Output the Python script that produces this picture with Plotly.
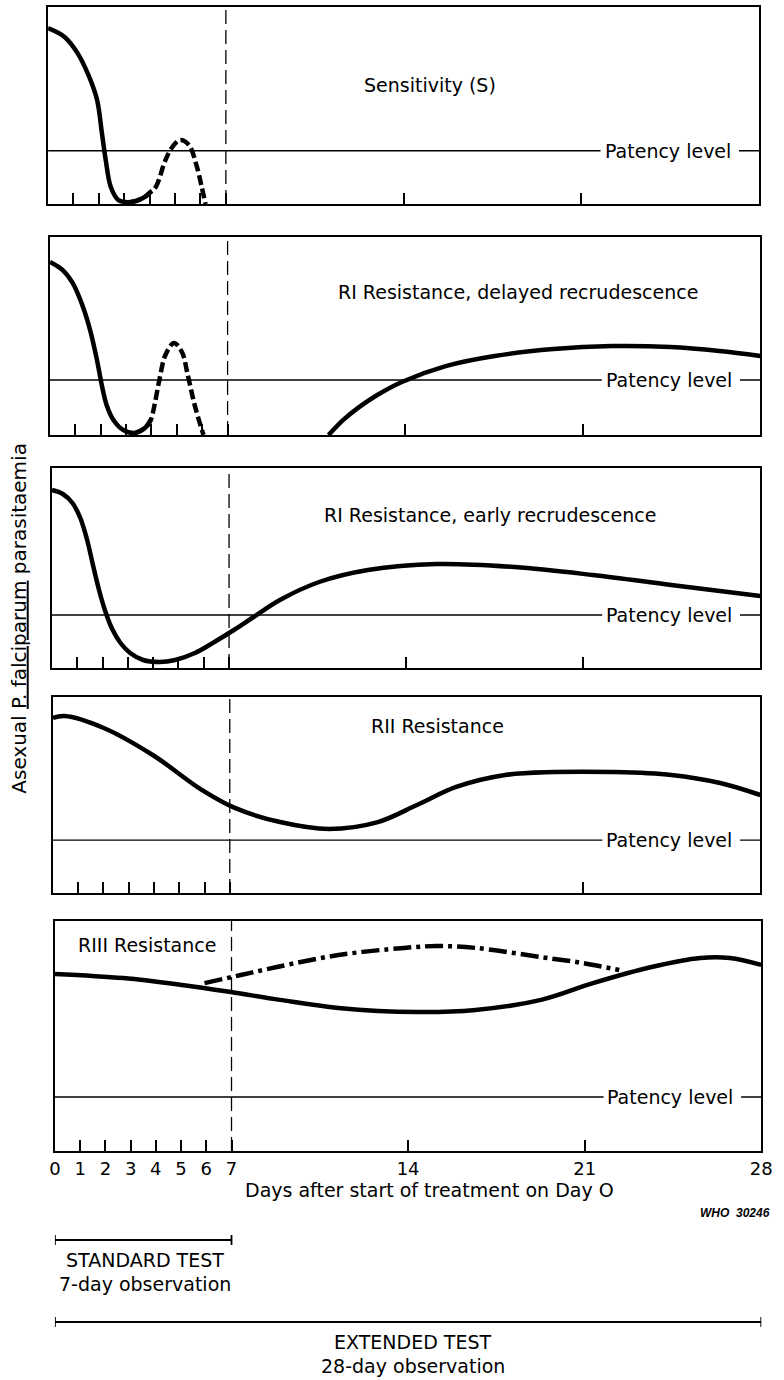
import plotly.graph_objects as go

# ---------------- data (days after start of treatment, relative parasitaemia 0..1 of panel height) -------------
PANEL_TITLES = [
    "Sensitivity (S)",
    "RI Resistance, delayed recrudescence",
    "RI Resistance, early recrudescence",
    "RII Resistance",
    "RIII Resistance",
]
PATENCY = [0.27, 0.278, 0.265, 0.27, 0.235]

# Panel 1 : Sensitivity (solid up to index S_DASH_FROM, dashed afterwards)
S_DAYS = [0, 0.65, 1.16, 1.62, 1.93, 2.12, 2.27, 2.47, 2.77, 3.27, 3.74, 4.04,
          4.24, 4.62, 4.89, 5.20, 5.55, 5.86, 6.05, 6.20]
S_LEVEL = [0.893, 0.848, 0.766, 0.645, 0.528, 0.360, 0.223, 0.086, 0.020, 0.010, 0.030, 0.061,
           0.086, 0.223, 0.289, 0.325, 0.299, 0.188, 0.086, 0.0]
S_DASH_FROM = 11

# Panel 2 : RI delayed recrudescence
R1D_DAYS = [0, 0.50, 0.89, 1.27, 1.58, 1.85, 2.04, 2.23, 2.50, 2.89, 3.35, 3.74, 3.97,
            4.12, 4.31, 4.55, 4.89, 5.20, 5.43, 5.70, 6.05]
R1D_LEVEL = [0.874, 0.833, 0.768, 0.657, 0.530, 0.379, 0.253, 0.152, 0.076, 0.025, 0.010, 0.035, 0.076,
             0.152, 0.278, 0.404, 0.465, 0.419, 0.303, 0.152, 0.0]
R1D_DASH_FROM = 12
R1D_RECRU_DAYS = [10.98, 11.56, 12.13, 12.90, 13.87, 15.60, 17.53, 19.84, 22.15, 24.46, 26.39, 28]
R1D_RECRU_LEVEL = [0.0, 0.076, 0.136, 0.202, 0.268, 0.348, 0.399, 0.434, 0.449, 0.444, 0.424, 0.399]

# Panel 3 : RI early recrudescence
R1E_DAYS = [0, 0.43, 0.81, 1.12, 1.39, 1.62, 1.86, 2.09, 2.36, 2.71, 3.09, 3.60, 4.25, 4.87, 5.65,
            6.42, 7.19, 7.97, 9.01, 10.56, 12.49, 15.2, 18.29, 21.38, 24.48, 28]
R1E_LEVEL = [0.89, 0.87, 0.825, 0.75, 0.64, 0.515, 0.39, 0.29, 0.2, 0.125, 0.075, 0.04, 0.03, 0.04, 0.075,
             0.13, 0.19, 0.255, 0.34, 0.43, 0.49, 0.52, 0.505, 0.465, 0.415, 0.36]

# Panel 4 : RII
R2_DAYS = [0, 0.46, 2.01, 3.95, 5.89, 7.2, 8.99, 10.92, 12.86, 14.41, 15.96, 17.9, 19.83, 22.15, 24.48, 26.41, 28]
R2_LEVEL = [0.893, 0.903, 0.842, 0.704, 0.526, 0.434, 0.362, 0.327, 0.362, 0.449, 0.541, 0.602, 0.617,
            0.617, 0.602, 0.561, 0.5]

# Panel 5 : RIII
R3_SOLID_DAYS = [0, 2.71, 5.04, 6.98, 8.92, 11.24, 14.35, 16.67, 19.27, 21.33, 23.65, 25.59, 26.75, 28]
R3_SOLID_LEVEL = [0.770, 0.752, 0.722, 0.691, 0.657, 0.622, 0.604, 0.613, 0.657, 0.730, 0.800, 0.839,
                  0.839, 0.809]
R3_DASHDOT_DAYS = [5.93, 7.37, 8.80, 11.24, 13.84, 15.12, 16.67, 19.27, 20.94, 22.37]
R3_DASHDOT_LEVEL = [0.730, 0.765, 0.800, 0.852, 0.883, 0.891, 0.883, 0.843, 0.817, 0.787]

PANEL_TICK_DAYS = [
    [1, 2, 3, 4, 5, 6, 7, 14, 21],
    [1, 2, 3, 4, 5, 6, 7, 14, 21],
    [1, 2, 3, 4, 5, 6, 7, 14, 21],
    [1, 2, 3, 4, 5, 6, 7, 21],
    [0, 1, 2, 3, 4, 5, 6, 7, 14, 21, 28],
]
BOTTOM_TICK_TEXT = ["0", "1", "2", "3", "4", "5", "6", "7", "14", "21", "28"]
STANDARD_DAYS = [0, 7]
EXTENDED_DAYS = [0, 28]

# ---------------- layout (pixels) ----------------
W, H = 784, 1380
PANEL_TOP = [7, 237, 468, 697, 921]
PANEL_BOTTOM = [204, 435, 668, 893, 1151]
PANEL_LEFT = [43, 45, 47, 48, 50]
PANEL_RIGHT = [770, 771, 771, 771, 772]
TITLE_POS = [(433, 85), (523, 292), (495, 515), (441, 726), (144, 945)]

FONT = "DejaVu Sans, Verdana, sans-serif"
FS = 19


def px_x(x):
    return x / W


def px_y(y):
    return 1 - y / H


fig = go.Figure()


def add_curve(i, xs, ys, dash="solid"):
    fig.add_trace(go.Scatter(
        x=xs, y=ys, mode="lines",
        line=dict(color="black", width=4.5, shape="spline", smoothing=1.0, dash=dash),
        xaxis=f"x{i}", yaxis=f"y{i}", showlegend=False, hoverinfo="skip",
    ))


DASH = "10px,4px"
DASHDOT = "18px,5px,4px,5px"

# solid part, then the dashed part (dashed starts two points earlier so the spline joins smoothly)
add_curve(1, S_DAYS[:S_DASH_FROM + 1], S_LEVEL[:S_DASH_FROM + 1])
add_curve(1, S_DAYS[S_DASH_FROM - 2:], S_LEVEL[S_DASH_FROM - 2:], DASH)
add_curve(2, R1D_DAYS[:R1D_DASH_FROM + 1], R1D_LEVEL[:R1D_DASH_FROM + 1])
add_curve(2, R1D_DAYS[R1D_DASH_FROM - 2:], R1D_LEVEL[R1D_DASH_FROM - 2:], DASH)
add_curve(2, R1D_RECRU_DAYS, R1D_RECRU_LEVEL)
add_curve(3, R1E_DAYS, R1E_LEVEL)
add_curve(4, R2_DAYS, R2_LEVEL)
add_curve(5, R3_SOLID_DAYS, R3_SOLID_LEVEL)
add_curve(5, R3_DASHDOT_DAYS, R3_DASHDOT_LEVEL, DASHDOT)

layout = dict(
    width=W, height=H,
    margin=dict(l=0, r=0, t=0, b=0),
    paper_bgcolor="white", plot_bgcolor="white",
    font=dict(family=FONT, size=FS, color="black"),
    showlegend=False,
)

shapes = []
annotations = []

for k in range(5):
    i = k + 1
    sfx = "" if i == 1 else str(i)
    is_bottom = (i == 5)
    layout[f"xaxis{sfx}"] = dict(
        domain=[px_x(PANEL_LEFT[k]), px_x(PANEL_RIGHT[k])],
        range=[0, 28], anchor=f"y{i}",
        showline=True, mirror=True, linecolor="black", linewidth=2,
        ticks="inside", ticklen=11, tickwidth=1.6, tickcolor="black",
        tickmode="array", tickvals=PANEL_TICK_DAYS[k],
        ticktext=BOTTOM_TICK_TEXT if is_bottom else None,
        showticklabels=is_bottom,
        tickfont=dict(family=FONT, size=18),
        showgrid=False, zeroline=False, fixedrange=True,
    )
    layout[f"yaxis{sfx}"] = dict(
        domain=[px_y(PANEL_BOTTOM[k]), px_y(PANEL_TOP[k])],
        range=[0, 1], anchor=f"x{i}",
        showline=True, mirror=True, linecolor="black", linewidth=2,
        ticks="", showticklabels=False,
        showgrid=False, zeroline=False, fixedrange=True,
    )
    # day-7 dashed divider
    shapes.append(dict(type="line", xref=f"x{i}", yref=f"y{i}", x0=7, x1=7, y0=0, y1=1,
                       line=dict(color="black", width=1.3, dash="14px,6px")))
    # patency level line (broken around its label)
    shapes.append(dict(type="line", xref=f"x{i}", yref=f"y{i}", x0=0, x1=21.75,
                       y0=PATENCY[k], y1=PATENCY[k], line=dict(color="black", width=1.4)))
    shapes.append(dict(type="line", xref=f"x{i}", yref=f"y{i}", x0=27.2, x1=28,
                       y0=PATENCY[k], y1=PATENCY[k], line=dict(color="black", width=1.4)))
    annotations.append(dict(text="Patency level", xref=f"x{i}", yref=f"y{i}", x=24.4,
                            y=PATENCY[k], showarrow=False, xanchor="center", yanchor="middle",
                            font=dict(family=FONT, size=FS)))
    tx, ty = TITLE_POS[k]
    annotations.append(dict(text=PANEL_TITLES[k], xref="paper", yref="paper", x=px_x(tx), y=px_y(ty),
                            showarrow=False, xanchor="center", yanchor="middle",
                            font=dict(family=FONT, size=FS)))

# axis titles and notes
annotations.append(dict(text="Days after start of treatment on Day O", xref="paper", yref="paper",
                        x=px_x(433), y=px_y(1190), showarrow=False, xanchor="center", yanchor="middle",
                        font=dict(family=FONT, size=FS)))
annotations.append(dict(text="Asexual <u>P. falciparum</u> parasitaemia", xref="paper", yref="paper",
                        x=px_x(13), y=px_y(618), showarrow=False, textangle=-90,
                        xanchor="center", yanchor="middle", font=dict(family=FONT, size=20)))
annotations.append(dict(text="<b><i>WHO  30246</i></b>", xref="paper", yref="paper",
                        x=px_x(783), y=px_y(1213), showarrow=False, xanchor="right", yanchor="middle",
                        font=dict(family="Liberation Sans, Arial, sans-serif", size=12)))

# standard / extended test bars
for days, ypx, l1, l2, txtx in [(STANDARD_DAYS, 1240, "STANDARD TEST", "7-day observation", 142),
                                (EXTENDED_DAYS, 1322, "EXTENDED TEST", "28-day observation", 416)]:
    shapes.append(dict(type="line", xref="x5", yref="paper", x0=days[0], x1=days[1],
                       y0=px_y(ypx), y1=px_y(ypx), line=dict(color="black", width=1.8)))
    for d in days:
        shapes.append(dict(type="line", xref="x5", yref="paper", x0=d, x1=d,
                           y0=px_y(ypx - 5), y1=px_y(ypx + 5), line=dict(color="black", width=1.8)))
    annotations.append(dict(text=l1, xref="paper", yref="paper", x=px_x(txtx), y=px_y(ypx + 20),
                            showarrow=False, xanchor="center", yanchor="middle",
                            font=dict(family=FONT, size=FS)))
    annotations.append(dict(text=l2, xref="paper", yref="paper", x=px_x(txtx), y=px_y(ypx + 44),
                            showarrow=False, xanchor="center", yanchor="middle",
                            font=dict(family=FONT, size=FS)))

layout["shapes"] = shapes
layout["annotations"] = annotations
fig.update_layout(**layout)

fig.write_html("out.html", config={"displayModeBar": False},
               post_script="document.body.style.margin='0';document.body.style.overflow='hidden';")
